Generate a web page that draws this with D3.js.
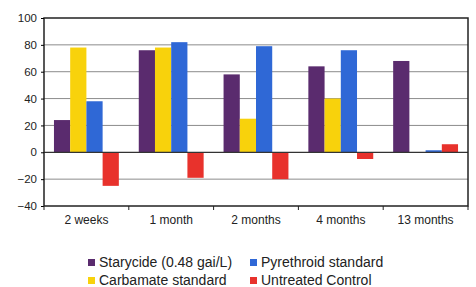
<!DOCTYPE html>
<html lang="en">
<head>
  <meta charset="UTF-8">
  <title>Starycide chart</title>
  <script src="https://d3js.org/d3.v7.min.js"></script>
  <style>
    body { margin: 0; background: #fff; }
    text { font-family: "Liberation Sans", Arial, sans-serif; fill: #222; }
  </style>
</head>
<body>
  <script>
    // data
    var categories = ['2 weeks', '1 month', '2 months', '4 months', '13 months']
    var seriesNames = ['Starycide (0.48 gai/L)', 'Carbamate standard', 'Pyrethroid standard', 'Untreated Control']
    var starycide = [24, 76, 58, 64, 68]
    var carbamate = [78, 78, 25, 40, 0]
    var pyrethroid = [38, 82, 79, 76, 1.5]
    var untreated = [-25, -19, -20, -5, 6]
    var yTicks = [-40, -20, 0, 20, 40, 60, 80, 100]
    var colors = ['#5a2b6e', '#f8d20c', '#2f68d6', '#e8322c']

    var series = [starycide, carbamate, pyrethroid, untreated]
    var width = 476, height = 287
    var padding = {top: 18, right: 8, bottom: 81, left: 44}
    var svg = d3.select('body').append('svg').attr('width', width).attr('height', height)

    var x0 = d3.scaleBand().domain(categories)
      .range([padding.left, width - padding.right])
      .paddingInner(0.235).paddingOuter(0.1175)
    var x1 = d3.scaleBand().domain(d3.range(series.length)).range([0, x0.bandwidth()])
    var y = d3.scaleLinear().domain([-40, 100]).range([height - padding.bottom, padding.top])

    // gridlines
    svg.append('g').selectAll('line').data(yTicks.filter(function (d) { return d !== 0 && d !== 100 && d !== -40 }))
      .enter().append('line')
      .attr('x1', padding.left).attr('x2', width - padding.right)
      .attr('y1', function (d) { return y(d) }).attr('y2', function (d) { return y(d) })
      .attr('stroke', '#8c8c8c').attr('stroke-width', 1)

    // bars
    var groups = svg.append('g').selectAll('g').data(categories).enter().append('g')
      .attr('transform', function (d) { return 'translate(' + x0(d) + ',0)' })
    groups.selectAll('rect')
      .data(function (d, i) { return series.map(function (s, j) { return {k: j, v: s[i]} }) })
      .enter().append('rect')
      .attr('x', function (d) { return x1(d.k) })
      .attr('width', x1.bandwidth())
      .attr('y', function (d) { return y(Math.max(0, d.v)) })
      .attr('height', function (d) { return Math.abs(y(d.v) - y(0)) })
      .attr('fill', function (d) { return colors[d.k] })

    // zero line
    svg.append('line').attr('x1', padding.left).attr('x2', width - padding.right)
      .attr('y1', y(0)).attr('y2', y(0)).attr('stroke', '#333').attr('stroke-width', 1.2)

    // frame
    svg.append('rect').attr('x', padding.left).attr('y', padding.top)
      .attr('width', width - padding.left - padding.right)
      .attr('height', height - padding.top - padding.bottom)
      .attr('fill', 'none').attr('stroke', '#222').attr('stroke-width', 1.5)

    // y axis
    var yAxis = d3.axisLeft(y).tickValues(yTicks).tickSize(3).tickPadding(4)
    var gy = svg.append('g').attr('transform', 'translate(' + padding.left + ',0)').call(yAxis)
    gy.select('.domain').remove()
    gy.selectAll('text').style('font-size', '11.5px')

    // x axis: ticks on category boundaries
    var xAxis = d3.axisBottom(x0).tickSize(0).tickPadding(9)
    var gx = svg.append('g').attr('transform', 'translate(0,' + (height - padding.bottom) + ')').call(xAxis)
    gx.select('.domain').remove()
    gx.selectAll('text').style('font-size', '12px')
    var step = x0.step()
    svg.append('g').selectAll('line').data(d3.range(categories.length + 1)).enter().append('line')
      .attr('x1', function (d) { return padding.left + d * step })
      .attr('x2', function (d) { return padding.left + d * step })
      .attr('y1', height - padding.bottom).attr('y2', height - padding.bottom + 4)
      .attr('stroke', '#222')

    // legend
    var legendPos = [[88, 267], [88, 285], [250, 267], [250, 285]]
    var legend = svg.append('g').selectAll('g').data(seriesNames).enter().append('g')
      .attr('transform', function (d, i) { return 'translate(' + legendPos[i][0] + ',' + legendPos[i][1] + ')' })
    legend.append('rect').attr('x', 0).attr('y', -8).attr('width', 7).attr('height', 7)
      .attr('fill', function (d, i) { return colors[i] })
    legend.append('text').attr('x', 11).attr('y', 0).style('font-size', '14px')
      .text(function (d) { return d })
  </script>
</body>
</html>
